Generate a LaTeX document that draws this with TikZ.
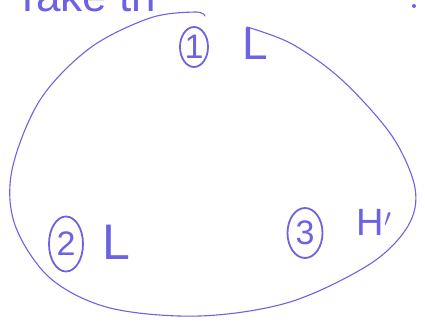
\documentclass[tikz,border=0pt]{standalone}
\usepackage{fontspec}
\setmainfont{Liberation Sans}
\usetikzlibrary{shapes.geometric}

\definecolor{ink}{RGB}{108,98,226}

\begin{document}
\begin{tikzpicture}[x=1pt, y=-1pt,
    pen/.style={draw=ink, line width=1.1pt, line cap=round, line join=round},
    hand/.style={text=ink, inner sep=0pt, font=\fontsize{44}{48}\selectfont},
    numring/.style={ellipse, draw=ink, line width=1.8pt, text=ink, inner sep=0pt,
                    font=\fontsize{34}{36}\selectfont}]
      \useasboundingbox (0,0) rectangle (425,328);
      \clip (0,0) rectangle (425,328);

      % Titelzeile, oben abgeschnitten
      \node[hand, anchor=base west] (title) at (14,12) {Take th};
      \fill[ink] (414,6) circle (2);

      % Die Schleife
      \draw[pen] plot[smooth, tension=0.55] coordinates {
          (205,16) (195,12) (150,18) (90,48) (40,100) (12,170) (15,225)
          (50,278) (110,308) (200,316) (290,302) (370,264) (408,226)
          (415,188) (392,136) (342,80) (292,44) (247,27)};

      % Punkte 1, 2, 3
      \node[numring, minimum width=28, minimum height=40] (one) at (194,47) {1};
      \node[hand, font=\fontsize{46}{50}\selectfont] (lone) at (255,44) {L};

      \node[numring, minimum width=34, minimum height=55] (two) at (66,244) {2};
      \node[hand, font=\fontsize{50}{54}\selectfont] (ltwo) at (116,242) {L};

      \node[numring, minimum width=35, minimum height=50] (three) at (305,233) {3};
      \node[hand, font=\fontsize{38}{42}\selectfont] (hthree) at (374,222) {H$'$};
    \end{tikzpicture}
\end{document}
